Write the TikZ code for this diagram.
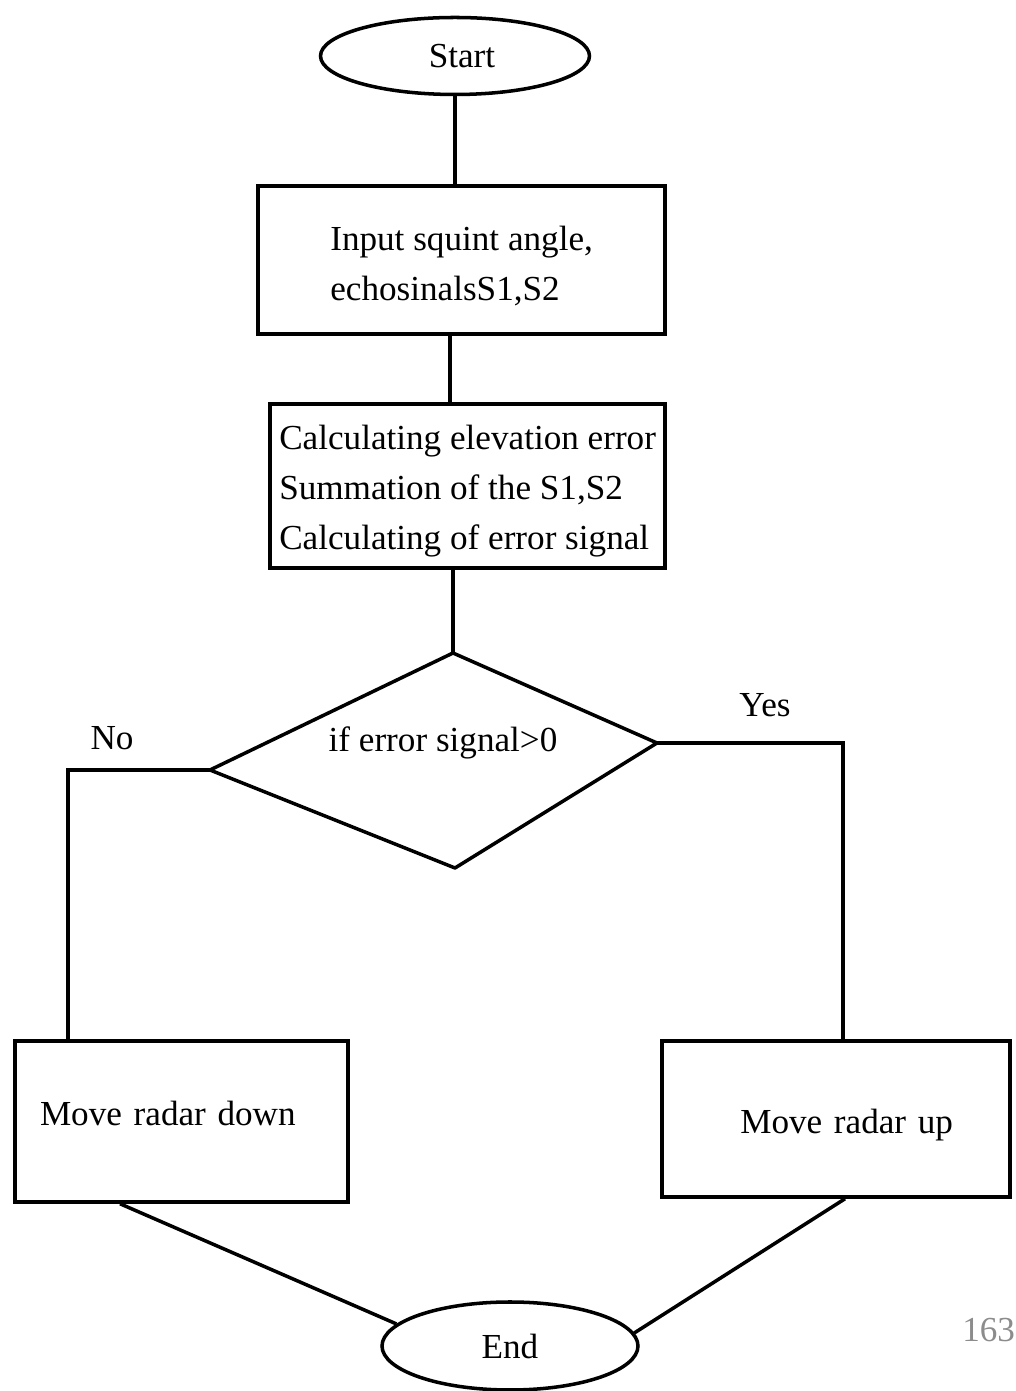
\documentclass[tikz,border=0pt]{standalone}
\usepackage{fontspec}
\setmainfont{Liberation Serif}
\usetikzlibrary{shapes.geometric,positioning,calc}
\definecolor{ink}{HTML}{000000}
\definecolor{pagegray}{HTML}{8C8C8C}
\tikzset{
  flowline/.style={draw=ink, line width=2.5pt},
  term/.style={ellipse, draw=ink, line width=2.5pt, inner sep=0pt, font=\fontsize{25}{30}\selectfont},
  procbox/.style={rectangle, draw=ink, line width=2.5pt, inner sep=2pt, align=left, font=\fontsize{25}{35.5}\selectfont},
  branch/.style={font=\fontsize{25}{30}\selectfont, inner sep=0pt},
  pagenum/.style={font=\fontsize{25}{30}\selectfont, text=pagegray, inner sep=0pt}
}
\begin{document}
\begin{tikzpicture}
\useasboundingbox (0,0) rectangle (25.4,34.775);
\node[term, minimum width=6.725cm, minimum height=1.925cm] (start) at (11.375,33.375) {\hspace*{0.35cm}Start};
\node[procbox, minimum width=10.175cm, minimum height=3.7cm] (input) at (11.54,28.275) {\rule{0pt}{0.9cm}Input squint angle,\\echosinalsS1,S2};
\node[procbox, minimum width=9.875cm, minimum height=4.1cm] (calc) at (11.69,22.625) {\rule{0pt}{0.85cm}Calculating elevation error\\Summation of the S1,S2\\Calculating of error signal};
% decision
\coordinate (dtop) at (11.325,18.45);
\coordinate (dleft) at (5.25,15.525);
\coordinate (dright) at (16.425,16.2);
\coordinate (dbot) at (11.375,13.075);
\draw[flowline, line join=round] (dtop) -- (dright) -- (dbot) -- (dleft) -- cycle;
\node[branch] (test) at (11.075,16.2) {if error signal>0};
\node[procbox, minimum width=8.325cm, minimum height=4.025cm, text width=7.075cm, inner xsep=0.625cm] (down) at (4.5375,6.7375) {Move radar down\rule[-0.4cm]{0pt}{0.4cm}};
\node[procbox, align=right, minimum width=8.7cm, minimum height=3.9cm, text width=5.85cm, inner xsep=1.425cm] (up) at (20.9,6.8) {\rule{0pt}{0.9cm}Move radar up};
\node[term, minimum width=6.4cm, minimum height=2.2cm] (stop) at (12.75,1.125) {End};
% connectors
\draw[flowline] (start.south) -- (start.south |- input.north);
\draw[flowline] ([xshift=-0.29cm]input.south) -- ([xshift=-0.29cm]input.south |- calc.north);
\draw[flowline] (dtop |- calc.south) -- (dtop);
\coordinate (noturn) at (1.7,15.525);
\coordinate (yesturn) at (21.075,16.2);
\draw[flowline] (dleft) -- (noturn) -- (noturn |- down.north);
\draw[flowline] (dright) -- (yesturn) -- (yesturn |- up.north);
\draw[flowline] ([xshift=-1.5375cm]down.south) -- (stop.169);
\draw[flowline] ([xshift=0.225cm]up.south) -- (stop.6);
\node[branch] (nolabel) at (2.8,16.325) {No};
\node[branch] (yeslabel) at (19.125,17.15) {Yes};
\node[pagenum, anchor=west] (pageno) at (24.05,1.525) {163};
\end{tikzpicture}
\end{document}
